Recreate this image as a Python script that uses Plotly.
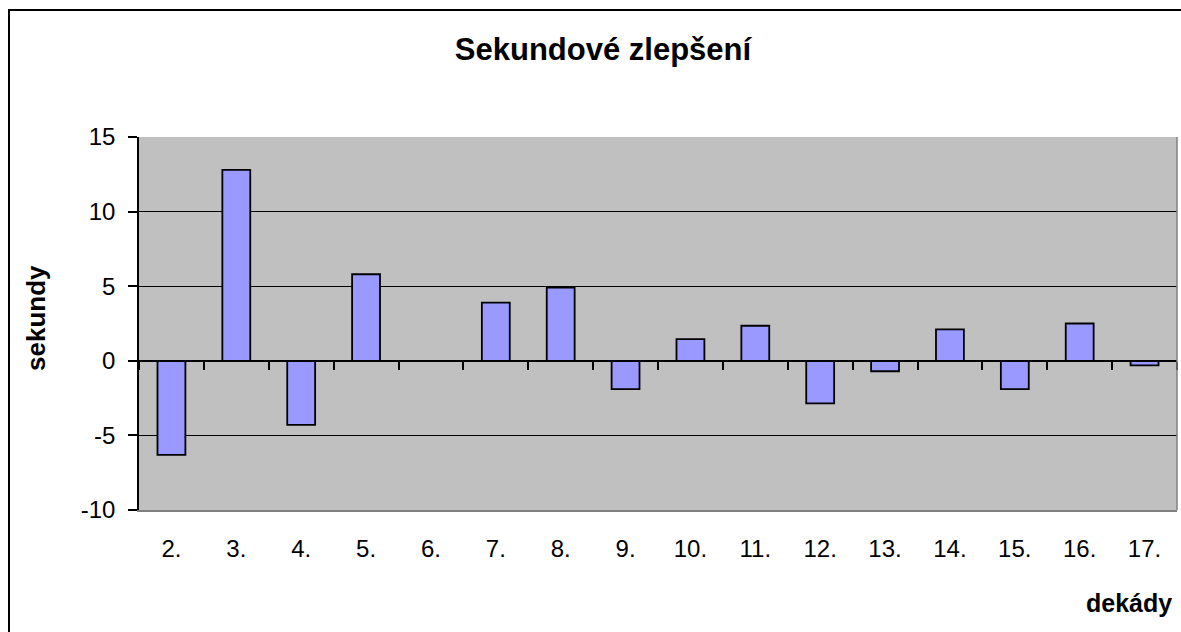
import plotly.graph_objects as go

categories = ["2.", "3.", "4.", "5.", "6.", "7.", "8.", "9.", "10.", "11.", "12.", "13.", "14.", "15.", "16.", "17."]
values = [-6.3, 12.8, -4.3, 5.8, 0.0, 3.9, 4.9, -1.9, 1.45, 2.35, -2.85, -0.7, 2.1, -1.9, 2.5, -0.3]
y_ticks = [-10, -5, 0, 5, 10, 15]

FONT = "Liberation Sans, Arial, sans-serif"

W, H = 1181, 632
PL, PR, PT, PB = 139, 1177, 137, 510   # plot area in page pixels
PW, PH = PR - PL, PB - PT


def px(x):
    return (x - PL) / PW


def py(y):
    return (PB - y) / PH


fig = go.Figure()
fig.add_trace(go.Bar(
    x=categories, y=values,
    marker=dict(color="#9999FF", line=dict(color="black", width=1.8)),
    hoverinfo="skip", showlegend=False,
))
# helper trace for the category axis drawn at y=0
fig.add_trace(go.Scatter(
    x=categories, y=values, xaxis="x2", mode="markers",
    marker=dict(opacity=0), hoverinfo="skip", showlegend=False,
))

fig.update_layout(
    width=W, height=H,
    margin=dict(l=PL, r=W - PR, t=PT, b=H - PB),
    paper_bgcolor="white", plot_bgcolor="#C0C0C0",
    bargap=0.57,
    font=dict(family=FONT, size=24, color="black"),
    title=dict(text="<b>Sekundové zlepšení</b>", x=px(603), xref="paper", xanchor="center",
               y=1 - 49 / H, yref="container", yanchor="middle",
               font=dict(family=FONT, size=31)),
    xaxis=dict(
        type="category", categoryarray=categories, range=[-0.5, 15.5],
        showline=True, linecolor="#808080", linewidth=1.5,
        ticks="", showgrid=False, zeroline=False,
        ticklabelstandoff=16,
        tickfont=dict(family=FONT, size=24),
    ),
    xaxis2=dict(
        type="category", categoryarray=categories, range=[-0.5, 15.5],
        overlaying="x", anchor="free", position=0.4, side="bottom",
        showline=True, linecolor="black", linewidth=1,
        ticks="outside", tickson="boundaries", ticklen=8, tickwidth=2, tickcolor="black",
        showticklabels=False, showgrid=False, zeroline=False,
    ),
    yaxis=dict(
        range=[-10, 15], tickvals=y_ticks, ticktext=[str(v) for v in y_ticks],
        showline=True, linecolor="black", linewidth=1.5,
        ticks="outside", ticklen=9, tickwidth=1.5, tickcolor="black",
        showgrid=True, gridcolor="black", gridwidth=1.2, zeroline=False,
        ticklabelstandoff=8,
        tickfont=dict(family=FONT, size=24),
    ),
    shapes=[
        # right edge of plot area
        dict(type="line", xref="x domain", yref="y domain", x0=1, x1=1, y0=0, y1=1,
             line=dict(color="#808080", width=1.5)),
        # outer chart frame
        dict(type="rect", xref="paper", yref="paper",
             x0=px(9), x1=px(1200), y0=py(700), y1=py(10),
             line=dict(color="black", width=2), fillcolor="rgba(0,0,0,0)", layer="above"),
    ],
    annotations=[
        dict(text="<b>sekundy</b>", xref="paper", yref="paper", textangle=-90,
             x=px(36), y=py(318), xanchor="center", yanchor="middle",
             showarrow=False, font=dict(family=FONT, size=26)),
        dict(text="<b>dekády</b>", xref="paper", yref="paper",
             x=px(1174), y=py(603), xanchor="right", yanchor="middle",
             showarrow=False, font=dict(family=FONT, size=25)),
    ],
)

fig.write_html("out.html", config={"displayModeBar": False},
               post_script="document.body.style.margin='0px';")
